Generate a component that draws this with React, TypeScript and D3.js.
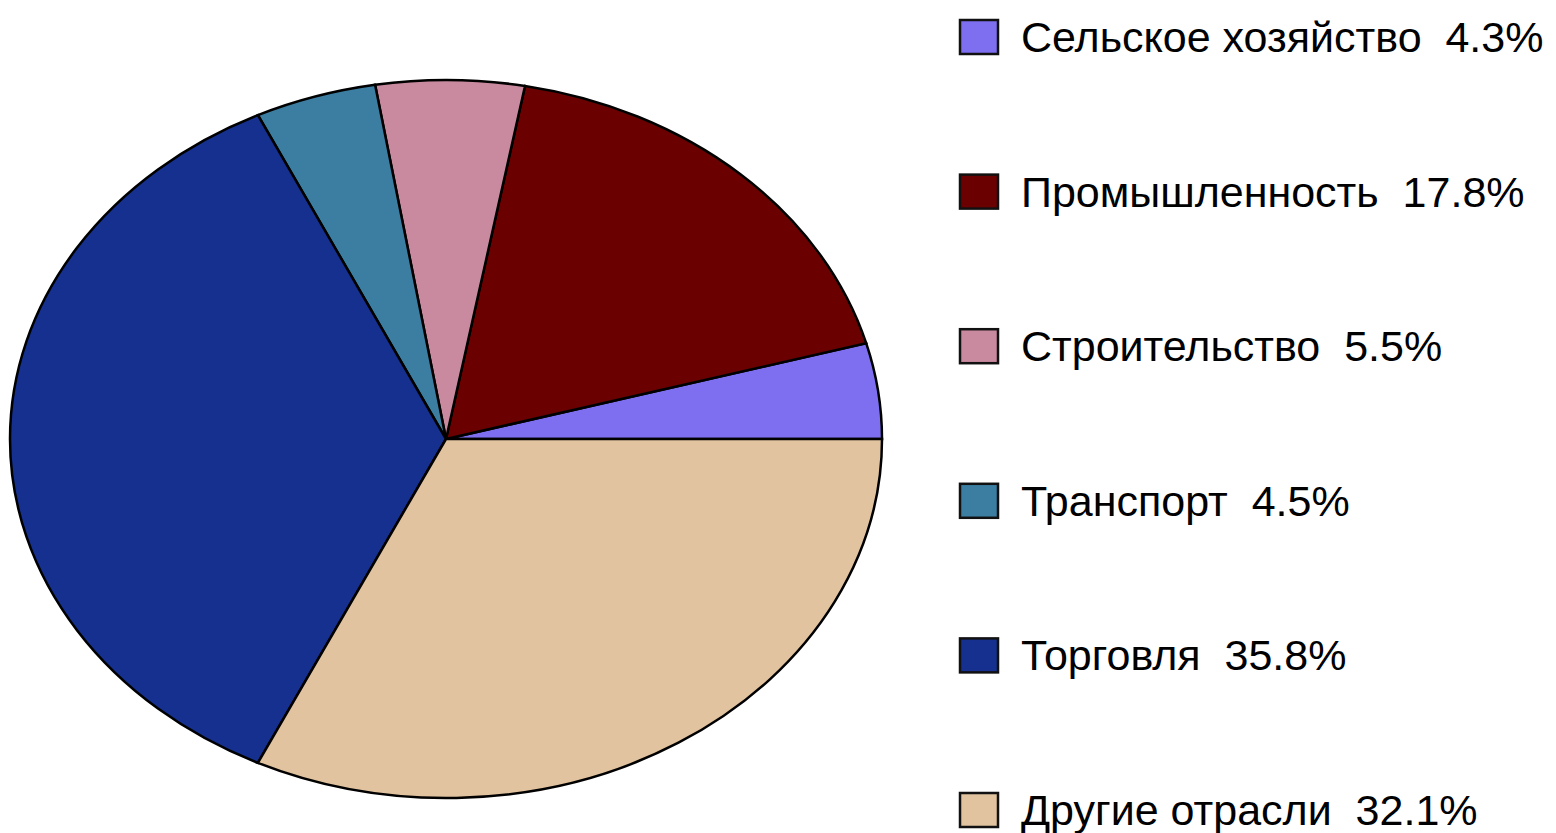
import React from "react";
import * as d3 from "d3";

const categories = [
  "Сельское хозяйство",
  "Промышленность",
  "Строительство",
  "Транспорт",
  "Торговля",
  "Другие отрасли",
];
const shares = [4.3, 17.8, 5.5, 4.5, 35.8, 32.1];
const colors = ["#7d6ff0", "#6b0000", "#c98a9f", "#3b7ea1", "#15308e", "#e1c39f"];

const W = 1556;
const H = 833;
const cx = 446;
const cy = 439;
const rx = 436;
const ry = 359;

export default function App() {
  const data = categories.map((c, i) => ({ name: c, value: shares[i], color: colors[i] }));
  const pie = d3
    .pie<any>()
    .sort(null)
    .value((d: any) => d.value)
    .startAngle(Math.PI / 2)
    .endAngle(Math.PI / 2 - 2 * Math.PI);
  const arcs = pie(data);
  const arc = d3.arc<any>().innerRadius(0).outerRadius(rx);

  const legendY = d3
    .scalePoint<string>()
    .domain(categories)
    .range([37, 810]);

  return (
    <svg
      width={W}
      height={H}
      style={{ position: "absolute", left: 0, top: 0, background: "#fff" }}
    >
      <g transform={`translate(${cx},${cy}) scale(1,${ry / rx})`}>
        {arcs.map((a, i) => (
          <path
            key={i}
            d={arc(a) as string}
            fill={a.data.color}
            stroke="#000"
            strokeWidth={2.5}
            vectorEffect="non-scaling-stroke"
          />
        ))}
      </g>
      <g>
        {data.map((d, i) => {
          const y = legendY(d.name) as number;
          return (
            <g key={i}>
              <rect
                x={960}
                y={y - 17}
                width={38}
                height={34}
                fill={d.color}
                stroke="#111"
                strokeWidth={2.5}
              />
              <text
                x={1021}
                y={y + 15}
                fontFamily="'Liberation Sans', Arial, sans-serif"
                fontSize={43}
                fill="#000"
                style={{ whiteSpace: "pre" }}
              >
                {`${d.name}  ${d.value.toFixed(1)}%`}
              </text>
            </g>
          );
        })}
      </g>
    </svg>
  );
}
